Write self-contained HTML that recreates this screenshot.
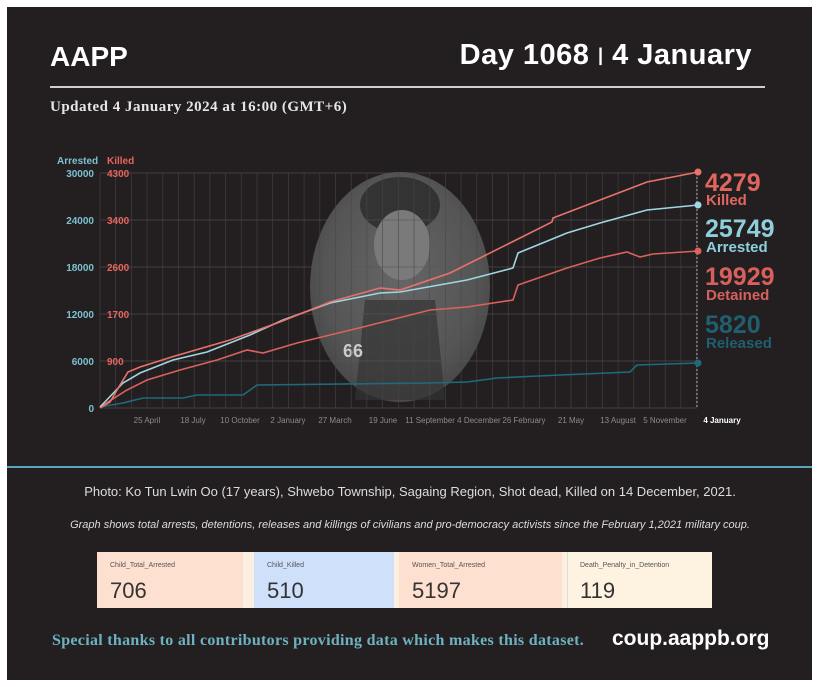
<!DOCTYPE html>
<html><head><meta charset="utf-8"><style>
body{margin:0;width:820px;height:687px;background:#fff;overflow:hidden;font-family:"Liberation Sans",sans-serif}
#p{position:absolute;left:7px;top:7px;width:805px;height:673px;background:#231f20}
.t{position:absolute;white-space:nowrap}
</style></head><body>
<div id="p"></div>
<div class="t" style="left:50px;top:41px;font-size:28px;font-weight:bold;color:#fff">AAPP</div>
<div class="t" style="right:68px;top:39px;font-size:29px;font-weight:bold;color:#fff;letter-spacing:0.5px">Day 1068 <span style="font-size:18px;position:relative;top:-3px">|</span> 4 January</div>
<div style="position:absolute;left:50px;top:86px;width:715px;height:2px;background:#cfcfcf"></div>
<div class="t" style="left:50px;top:99px;font-family:'Liberation Serif',serif;font-weight:bold;font-size:15px;color:#e6e6e6;letter-spacing:0.5px">Updated 4 January 2024 at 16:00 (GMT+6)</div>

<svg style="position:absolute;left:0;top:0" width="820" height="687">
<defs>
<radialGradient id="g" cx="0.5" cy="0.45" r="0.6">
<stop offset="0" stop-color="#666"/><stop offset="0.7" stop-color="#555"/><stop offset="1" stop-color="#444"/>
</radialGradient>
</defs>
<ellipse cx="400" cy="287" rx="90" ry="115" fill="url(#g)"/>
<ellipse cx="400" cy="205" rx="40" ry="28" fill="#333"/>
<ellipse cx="402" cy="245" rx="28" ry="35" fill="#7a7a7a"/>
<path d="M365 300 L435 300 L445 400 L355 400Z" fill="#333" opacity="0.7"/>
<text x="343" y="357" font-family="Liberation Sans" font-weight="bold" font-size="18" fill="#ccc">66</text>
<g stroke="#5a5657" stroke-width="0.7" opacity="0.8">
<line x1="100" y1="173" x2="697" y2="173"/><line x1="100" y1="220" x2="697" y2="220"/><line x1="100" y1="267" x2="697" y2="267"/><line x1="100" y1="314" x2="697" y2="314"/><line x1="100" y1="361" x2="697" y2="361"/><line x1="100" y1="408" x2="697" y2="408"/>
</g>
<g id="vg" stroke="#4a4647" stroke-width="0.7" opacity="0.8"></g>
<line x1="697" y1="173" x2="697" y2="408" stroke="#aaa" stroke-dasharray="2,2"/>
<g fill="none" stroke-width="1.6">
<polyline stroke="#1f6a7c" points="100,407 123,403 143,398 183,398 197,395 243,395 257,385 430,383 467,382 497,378 560,375 630,372 637,365 698,363"/>
<polyline stroke="#d9625c" points="100,407 127,390 147,380 180,370 217,360 247,350 263,353 297,343 363,327 430,310 467,307 513,300 518,285 567,268 600,258 627,252 640,257 653,254 698,251"/>
<polyline stroke="#9fd6e3" points="100,407 123,383 140,373 173,360 207,352 250,335 283,320 330,303 380,293 400,292 467,280 513,268 518,253 567,233 600,223 647,210 698,205"/>
<polyline stroke="#e8736b" points="100,408 110,402 120,385 128,372 140,367 175,356 230,340 280,322 330,302 380,288 400,290 450,273 510,243 552,222 553,218 600,200 647,182 683,175 698,172"/>
</g>
<circle cx="698" cy="172" r="3.5" fill="#e8736b"/><circle cx="698" cy="205" r="3.5" fill="#9fd6e3"/><circle cx="698" cy="251" r="3.5" fill="#d9625c"/><circle cx="698" cy="363" r="3.5" fill="#1f6a7c"/>
<g font-family="Liberation Sans" font-size="10" font-weight="bold">
<text x="57" y="164" fill="#7cc0d0">Arrested</text><text x="107" y="164" fill="#e5645f">Killed</text>
<g fill="#7cc0d0" text-anchor="end"><text x="94" y="177">30000</text><text x="94" y="224">24000</text><text x="94" y="271">18000</text><text x="94" y="318">12000</text><text x="94" y="365">6000</text><text x="94" y="412">0</text></g>
<g fill="#e5645f"><text x="107" y="177">4300</text><text x="107" y="224">3400</text><text x="107" y="271">2600</text><text x="107" y="318">1700</text><text x="107" y="365">900</text></g>
</g>
<g font-family="Liberation Sans" font-size="8" fill="#8d8a8a" text-anchor="middle">
<text x="147" y="423">25 April</text><text x="193" y="423">18 July</text><text x="240" y="423">10 October</text><text x="288" y="423">2 January</text><text x="335" y="423">27 March</text><text x="383" y="423">19 June</text><text x="453" y="423">11 September 4 December</text><text x="524" y="423">26 February</text><text x="571" y="423">21 May</text><text x="618" y="423">13 August</text><text x="665" y="423">5 November</text>
<text x="722" y="423" fill="#fff" font-weight="bold">4 January</text>
</g>
<g font-family="Liberation Sans" font-weight="bold">
<text x="705" y="191" font-size="25" fill="#e0665f">4279</text><text x="706" y="205" font-size="15" fill="#e0665f">Killed</text>
<text x="705" y="237" font-size="25" fill="#8ecfdc">25749</text><text x="706" y="252" font-size="15" fill="#8ecfdc">Arrested</text>
<text x="705" y="285" font-size="25" fill="#d8605c">19929</text><text x="706" y="300" font-size="15" fill="#d8605c">Detained</text>
<text x="705" y="333" font-size="25" fill="#1f5f70">5820</text><text x="706" y="348" font-size="15" fill="#1f5f70">Released</text>
</g>
<line x1="7" y1="467" x2="812" y2="467" stroke="#5ba5bc" stroke-width="2"/>
</svg>
<script>
var g=document.getElementById('vg'),s='';for(var x=100;x<697;x+=15.7){s+='<line x1="'+x+'" y1="173" x2="'+x+'" y2="408"/>';}g.innerHTML=s;
</script>
<div class="t" style="left:0;width:820px;text-align:center;top:484px;font-size:13px;color:#ddd">Photo: Ko Tun Lwin Oo (17 years), Shwebo Township, Sagaing Region, Shot dead, Killed on 14 December, 2021.</div>
<div class="t" style="left:0;width:820px;text-align:center;top:519px;font-size:11px;font-style:italic;color:#ddd">Graph shows total arrests, detentions, releases and killings of civilians and pro-democracy activists since the February 1,2021 military coup.</div>
<div style="position:absolute;left:97px;top:552px;width:614px;height:56px;background:#fcefdf">
<div style="position:absolute;left:0;top:0;width:146px;height:56px;background:#fde0cf"></div>
<div style="position:absolute;left:157px;top:0;width:140px;height:56px;background:#cfe0fb"></div>
<div style="position:absolute;left:302px;top:0;width:163px;height:56px;background:#fde0cf"></div>
<div style="position:absolute;left:470px;top:0;width:144px;height:56px;background:#fdf3e0;border-left:1px solid #ddd"></div>
<div class="t" style="left:13px;top:10px;font-size:7px;color:#555">Child_Total_Arrested</div><div class="t" style="left:13px;top:26px;font-size:22px;color:#333">706</div>
<div class="t" style="left:170px;top:10px;font-size:7px;color:#555">Child_Killed</div><div class="t" style="left:170px;top:26px;font-size:22px;color:#333">510</div>
<div class="t" style="left:315px;top:10px;font-size:7px;color:#555">Women_Total_Arrested</div><div class="t" style="left:315px;top:26px;font-size:22px;color:#333">5197</div>
<div class="t" style="left:483px;top:10px;font-size:7px;color:#555">Death_Penalty_in_Detention</div><div class="t" style="left:483px;top:26px;font-size:22px;color:#333">119</div>
</div>
<div class="t" style="left:52px;top:632px;font-family:'Liberation Serif',serif;font-weight:bold;font-size:16px;color:#6cb3bf;letter-spacing:0.3px">Special thanks to all contributors providing data which makes this dataset.</div>
<div class="t" style="left:612px;top:627px;font-size:21px;font-weight:bold;color:#fff">coup.aappb.org</div>
</body></html>
